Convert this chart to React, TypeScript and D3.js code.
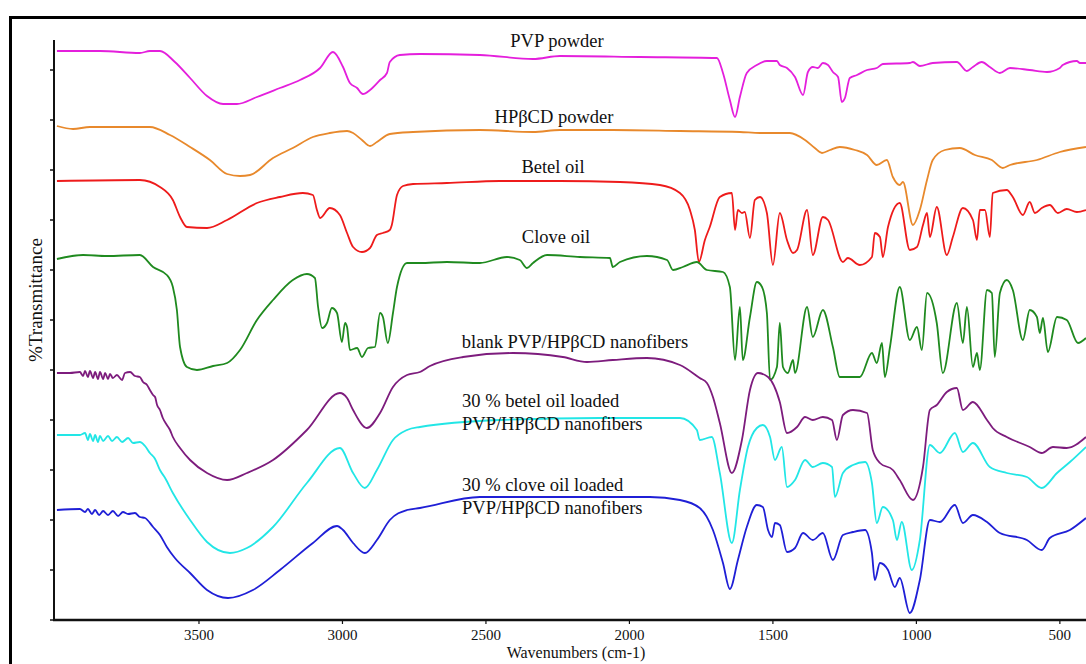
import React from "react";
import * as d3 from "d3";

// Wavenumber (cm-1) and offset transmittance (arbitrary units)
const xTicks = [3500, 3000, 2500, 2000, 1500, 1000, 500];
const yTicks = [0, 50, 100, 150, 200, 250, 300, 350, 400, 450, 500, 550];

const pvpPowder: [number, number][] = [
  [3995, 569], [3845, 569], [3706, 567], [3671, 569], [3636, 569], [3584, 558], [3531, 542], [3472, 524],
  [3416, 516], [3368, 516], [3298, 523], [3218, 532], [3148, 540], [3078, 552], [3033, 568], [2998, 553],
  [2974, 537], [2949, 532], [2929, 526], [2904, 530], [2869, 540], [2845, 547], [2835, 558], [2800, 565],
  [2730, 566], [2521, 565], [2336, 561], [2242, 564], [1963, 563], [1695, 562], [1674, 547], [1650, 520],
  [1632, 503], [1615, 523], [1591, 547], [1556, 555], [1521, 559], [1486, 559], [1476, 555], [1451, 552],
  [1423, 543], [1395, 525], [1378, 548], [1361, 553], [1343, 552], [1326, 557], [1308, 555], [1291, 548],
  [1273, 543], [1260, 518], [1249, 522], [1232, 542], [1207, 545], [1172, 550], [1138, 552], [1117, 556],
  [1023, 557], [1012, 558], [988, 554], [943, 557], [859, 558], [824, 549], [803, 553], [772, 558],
  [744, 553], [709, 547], [674, 552], [605, 550], [545, 548], [500, 552], [490, 555], [441, 559],
  [430, 557], [409, 557],
];

const hpbcdPowder: [number, number][] = [
  [3995, 494], [3939, 491], [3880, 493], [3671, 493], [3601, 485], [3531, 473], [3462, 460], [3402, 446],
  [3357, 444], [3322, 445], [3242, 462], [3173, 472], [3103, 483], [3044, 487], [2984, 489], [2963, 487],
  [2932, 480], [2904, 474], [2880, 478], [2835, 486], [2754, 488], [2521, 490], [2336, 488], [2242, 490],
  [2058, 490], [1824, 489], [1615, 488], [1545, 487], [1441, 487], [1388, 480], [1354, 472], [1329, 467],
  [1301, 470], [1267, 473], [1214, 470], [1172, 465], [1138, 455], [1103, 460], [1082, 443], [1058, 435],
  [1047, 438], [1012, 395], [988, 410], [963, 440], [943, 460], [901, 470], [849, 472], [796, 465],
  [737, 460], [699, 452], [674, 455], [580, 460], [500, 468], [409, 473],
];

const betelOil: [number, number][] = [
  [3995, 439], [3706, 440], [3636, 433], [3591, 420], [3566, 403], [3542, 393], [3472, 392], [3402, 400],
  [3298, 417], [3218, 423], [3138, 427], [3103, 425], [3089, 410], [3078, 402], [3044, 412], [3009, 405],
  [2984, 387], [2963, 373], [2932, 368], [2904, 372], [2880, 385], [2859, 387], [2835, 390], [2828, 395],
  [2810, 425], [2789, 434], [2754, 436], [2636, 437], [2451, 439], [2242, 439], [2033, 438], [1894, 435],
  [1824, 427], [1789, 410], [1772, 390], [1758, 358], [1737, 380], [1720, 393], [1685, 423], [1643, 427],
  [1632, 390], [1622, 410], [1608, 407], [1598, 408], [1580, 382], [1563, 420], [1545, 423], [1521, 407],
  [1500, 355], [1476, 407], [1451, 380], [1430, 367], [1416, 370], [1381, 410], [1361, 365], [1326, 403],
  [1308, 400], [1256, 358], [1239, 362], [1197, 355], [1155, 363], [1145, 387], [1127, 383], [1117, 363],
  [1099, 393], [1058, 417], [1023, 370], [998, 373], [977, 395], [963, 407], [953, 383], [929, 413],
  [894, 365], [873, 383], [838, 412], [803, 400], [789, 380], [779, 410], [761, 410], [744, 383],
  [734, 427], [685, 430], [664, 423], [629, 405], [605, 418], [587, 407], [563, 412], [535, 415],
  [507, 407], [476, 411], [441, 408], [409, 410],
];

const cloveOil: [number, number][] = [
  [3995, 361], [3904, 365], [3821, 364], [3706, 365], [3660, 353], [3612, 345], [3591, 333], [3577, 310],
  [3566, 273], [3542, 253], [3507, 250], [3451, 254], [3402, 257], [3357, 270], [3298, 300], [3242, 320],
  [3173, 340], [3124, 346], [3096, 342], [3085, 313], [3071, 292], [3054, 297], [3037, 312], [3019, 307],
  [3002, 278], [2991, 297], [2984, 293], [2974, 270], [2949, 272], [2932, 263], [2911, 272], [2887, 273],
  [2869, 307], [2859, 303], [2842, 277], [2824, 307], [2810, 333], [2775, 357], [2730, 357], [2636, 358],
  [2521, 357], [2427, 363], [2382, 360], [2357, 352], [2336, 357], [2287, 365], [2173, 363], [2068, 362],
  [2058, 353], [2033, 358], [1939, 364], [1869, 360], [1848, 350], [1814, 353], [1765, 358], [1730, 350],
  [1674, 348], [1650, 333], [1632, 260], [1615, 313], [1605, 260], [1580, 303], [1556, 338], [1538, 333],
  [1521, 307], [1510, 240], [1486, 253], [1476, 297], [1465, 253], [1448, 247], [1430, 260], [1423, 247],
  [1381, 313], [1361, 283], [1326, 310], [1291, 273], [1267, 243], [1197, 243], [1155, 267], [1138, 257],
  [1120, 277], [1110, 243], [1092, 273], [1058, 333], [1023, 280], [998, 293], [981, 270], [963, 327],
  [929, 297], [908, 247], [859, 317], [838, 277], [824, 313], [803, 253], [789, 267], [779, 250],
  [754, 330], [737, 327], [727, 263], [709, 327], [685, 340], [664, 330], [629, 280], [605, 310],
  [580, 303], [570, 287], [559, 302], [542, 268], [510, 303], [476, 300], [437, 277], [409, 282],
];

const blankFibers: [number, number][] = [
  [3995, 247], [3950, 247], [3915, 248], [3904, 244], [3897, 249], [3887, 243], [3880, 249], [3869, 242],
  [3862, 248], [3852, 241], [3845, 248], [3834, 241], [3827, 247], [3817, 241], [3810, 246], [3800, 242],
  [3786, 245], [3768, 240], [3758, 247], [3740, 248], [3723, 244], [3706, 243], [3695, 238], [3681, 235],
  [3671, 230], [3660, 225], [3653, 223], [3646, 215], [3636, 210], [3626, 202], [3612, 195], [3601, 190],
  [3591, 183], [3566, 172], [3531, 160], [3472, 147], [3402, 140], [3333, 147], [3242, 160], [3124, 190],
  [3009, 227], [2984, 222], [2963, 210], [2915, 192], [2869, 207], [2824, 233], [2775, 245], [2730, 248],
  [2695, 254], [2580, 263], [2406, 267], [2232, 263], [2148, 258], [2058, 260], [1939, 262], [1824, 255],
  [1755, 242], [1730, 237], [1709, 223], [1685, 197], [1643, 147], [1608, 180], [1580, 230], [1552, 247],
  [1517, 243], [1476, 218], [1451, 187], [1416, 193], [1388, 203], [1361, 200], [1326, 203], [1294, 200],
  [1277, 180], [1256, 205], [1221, 210], [1172, 207], [1152, 170], [1127, 157], [1082, 150], [1058, 140],
  [1012, 120], [977, 153], [953, 210], [929, 215], [894, 228], [859, 232], [838, 210], [803, 218],
  [754, 200], [734, 192], [685, 183], [605, 173], [563, 167], [524, 173], [476, 172], [409, 183],
];

const betelFibers: [number, number][] = [
  [3995, 185], [3915, 185], [3897, 187], [3887, 180], [3880, 186], [3869, 179], [3862, 185], [3852, 178],
  [3845, 184], [3834, 179], [3817, 184], [3803, 179], [3786, 183], [3768, 178], [3747, 182], [3730, 177],
  [3706, 178], [3688, 174], [3671, 167], [3653, 161], [3636, 150], [3618, 142], [3591, 127], [3531, 100],
  [3472, 78], [3392, 67], [3333, 72], [3242, 93], [3124, 137], [3009, 172], [2963, 147], [2922, 132],
  [2880, 150], [2824, 180], [2775, 190], [2730, 193], [2451, 200], [2103, 202], [1824, 202], [1765, 190],
  [1755, 180], [1713, 183], [1685, 147], [1643, 77], [1615, 130], [1587, 173], [1556, 192], [1535, 195],
  [1510, 183], [1493, 160], [1469, 173], [1451, 133], [1423, 140], [1388, 160], [1361, 153], [1326, 157],
  [1294, 153], [1284, 123], [1256, 147], [1221, 155], [1179, 158], [1155, 137], [1138, 97], [1117, 113],
  [1082, 100], [1068, 80], [1051, 98], [1016, 50], [988, 80], [953, 175], [918, 167], [866, 187],
  [838, 168], [803, 177], [744, 153], [685, 147], [615, 143], [563, 132], [510, 147], [465, 158],
  [409, 173],
];

const cloveFibers: [number, number][] = [
  [3995, 110], [3915, 111], [3897, 108], [3887, 111], [3873, 106], [3862, 110], [3848, 105], [3834, 109],
  [3817, 105], [3800, 109], [3782, 104], [3765, 108], [3747, 106], [3723, 107], [3706, 103], [3688, 102],
  [3660, 93], [3636, 85], [3612, 73], [3584, 62], [3531, 47], [3472, 30], [3399, 22], [3312, 30],
  [3218, 50], [3103, 77], [3019, 94], [2998, 90], [2963, 77], [2922, 67], [2880, 80], [2835, 100],
  [2775, 110], [2730, 112], [2521, 123], [2242, 123], [1929, 123], [1824, 120], [1755, 112], [1709, 90],
  [1674, 57], [1650, 31], [1622, 60], [1591, 93], [1556, 115], [1535, 113], [1517, 90], [1503, 83],
  [1493, 97], [1476, 95], [1451, 68], [1423, 72], [1395, 87], [1361, 80], [1326, 87], [1291, 60],
  [1256, 85], [1221, 88], [1179, 90], [1155, 67], [1145, 40], [1127, 57], [1099, 50], [1075, 33],
  [1058, 42], [1023, 7], [988, 40], [953, 100], [918, 98], [866, 115], [838, 97], [803, 105],
  [754, 98], [709, 87], [615, 80], [563, 70], [535, 82], [465, 90], [409, 102],
];

const seriesColors = ["#e41fdc", "#e8892c", "#ee1b1b", "#1f8a1f", "#7d1c7d", "#22e6e6", "#1f1fd6"];
const seriesData = [pvpPowder, hpbcdPowder, betelOil, cloveOil, blankFibers, betelFibers, cloveFibers];

const W = 1086;
const H = 664;

export default function App() {
  const x = d3.scaleLinear().domain([4000, 410]).range([55.5, 1085.7]);
  const y = d3.scaleLinear().domain([0, 580]).range([620, 40]);
  const line = d3
    .line<[number, number]>()
    .x((d) => x(d[0]))
    .y((d) => y(d[1]))
    .curve(d3.curveMonotoneX);

  const serif = "'Liberation Serif', 'Times New Roman', serif";
  const axisLeft = 54;
  const axisBottom = y(0);

  return (
    <svg
      width={W}
      height={H}
      style={{ position: "absolute", left: 0, top: 0, background: "#fff" }}
      fontFamily={serif}
    >
      <rect x={0} y={0} width={W} height={H} fill="#fff" />
      {/* outer frame */}
      <rect x={10.5} y={17.5} width={W + 20} height={H + 20} fill="none" stroke="#000" strokeWidth={3} />

      {/* spectra */}
      {seriesData.map((s, i) => (
        <path
          key={i}
          d={line(s) || ""}
          fill="none"
          stroke={seriesColors[i]}
          strokeWidth={1.8}
          strokeLinejoin="round"
        />
      ))}

      {/* axes */}
      <line x1={axisLeft} y1={y(580)} x2={axisLeft} y2={axisBottom + 1} stroke="#111" strokeWidth={2} />
      <line x1={axisLeft - 1} y1={axisBottom} x2={W} y2={axisBottom} stroke="#111" strokeWidth={2.5} />
      {yTicks.map((t) => (
        <line key={t} x1={axisLeft - 4} x2={axisLeft} y1={y(t)} y2={y(t)} stroke="#111" strokeWidth={1.5} />
      ))}
      {xTicks.map((t) => (
        <g key={t}>
          <line x1={x(t)} x2={x(t)} y1={axisBottom} y2={axisBottom + 4} stroke="#111" strokeWidth={1.2} />
          <text x={x(t)} y={axisBottom + 20} textAnchor="middle" fontSize={15} fill="#111">
            {t}
          </text>
        </g>
      ))}
      <text x={576} y={658} textAnchor="middle" fontSize={16} fill="#111">
        Wavenumbers (cm-1)
      </text>
      <text
        transform={`translate(42,300) rotate(-90)`}
        textAnchor="middle"
        fontSize={19}
        fill="#111"
      >
        %Transmittance
      </text>

      {/* annotations */}
      <g fontSize={18.5} fill="#111">
        <text x={557} y={47} textAnchor="middle">PVP powder</text>
        <text x={554} y={123} textAnchor="middle">HPβCD powder</text>
        <text x={553} y={173} textAnchor="middle">Betel oil</text>
        <text x={556} y={243} textAnchor="middle">Clove oil</text>
        <text x={575} y={348} textAnchor="middle">blank PVP/HPβCD nanofibers</text>
        <text x={462} y={407}>30 % betel oil loaded</text>
        <text x={462} y={430}>PVP/HPβCD nanofibers</text>
        <text x={462} y={491}>30 % clove oil loaded</text>
        <text x={462} y={514}>PVP/HPβCD nanofibers</text>
      </g>
    </svg>
  );
}
